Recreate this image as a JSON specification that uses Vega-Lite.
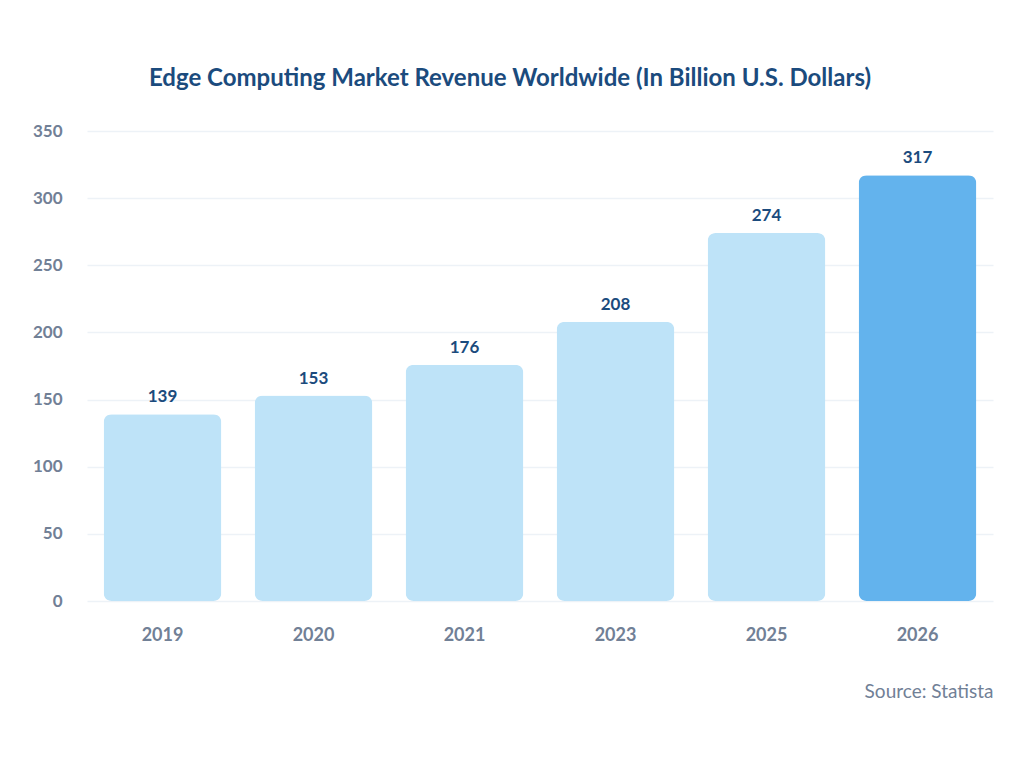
{
  "$schema": "https://vega.github.io/schema/vega-lite/v6.json",
  "autosize": {"type": "none"},
  "width": 906,
  "height": 470,
  "padding": {"left": 87, "top": 131, "right": 31, "bottom": 167},
  "background": "white",
  "config": {
    "font": "Lato",
    "view": {"stroke": null}
  },
  "title": {
    "text": "Edge Computing Market Revenue Worldwide (In Billion U.S. Dollars)",
    "font": "Lato",
    "fontSize": 24,
    "fontWeight": "bold",
    "color": "#1b4b7d",
    "anchor": "middle",
    "dx": -30,
    "offset": 31
  },
  "data": {
    "values": [
      {"year": "2019", "revenue": 139},
      {"year": "2020", "revenue": 153},
      {"year": "2021", "revenue": 176},
      {"year": "2023", "revenue": 208},
      {"year": "2025", "revenue": 274},
      {"year": "2026", "revenue": 317}
    ]
  },
  "encoding": {
    "x": {
      "field": "year",
      "type": "ordinal",
      "scale": {"paddingInner": 0.22, "paddingOuter": 0.11},
      "axis": {
        "title": "Source: Statista",
        "titleAnchor": "end",
        "titleAlign": "right",
        "titleFont": "Lato",
        "titleFontSize": 19,
        "titleFontWeight": "normal",
        "titleColor": "#718096",
        "titlePadding": 38,
        "labelAngle": 0,
        "labelFont": "Lato",
        "labelFontSize": 18,
        "labelFontWeight": "bold",
        "labelColor": "#718096",
        "labelPadding": 25,
        "ticks": false,
        "domain": false
      }
    },
    "y": {
      "field": "revenue",
      "type": "quantitative",
      "scale": {"domain": [0, 350]},
      "axis": {
        "title": null,
        "values": [0, 50, 100, 150, 200, 250, 300, 350],
        "labelFont": "Lato",
        "labelFontSize": 17,
        "labelFontWeight": "bold",
        "labelColor": "#718096",
        "labelPadding": 25,
        "ticks": false,
        "domain": false,
        "gridColor": "#edf2f7",
        "gridWidth": 1.5
      }
    }
  },
  "layer": [
    {
      "mark": {"type": "bar", "cornerRadius": 8},
      "encoding": {
        "color": {
          "condition": {"test": "datum.year === '2026'", "value": "#63b3ed"},
          "value": "#bee3f8"
        }
      }
    },
    {
      "mark": {
        "type": "text",
        "baseline": "bottom",
        "dy": -8,
        "font": "Lato",
        "fontSize": 17,
        "fontWeight": "bold",
        "color": "#1b4b7d"
      },
      "encoding": {
        "text": {"field": "revenue", "type": "quantitative"}
      }
    }
  ]
}
